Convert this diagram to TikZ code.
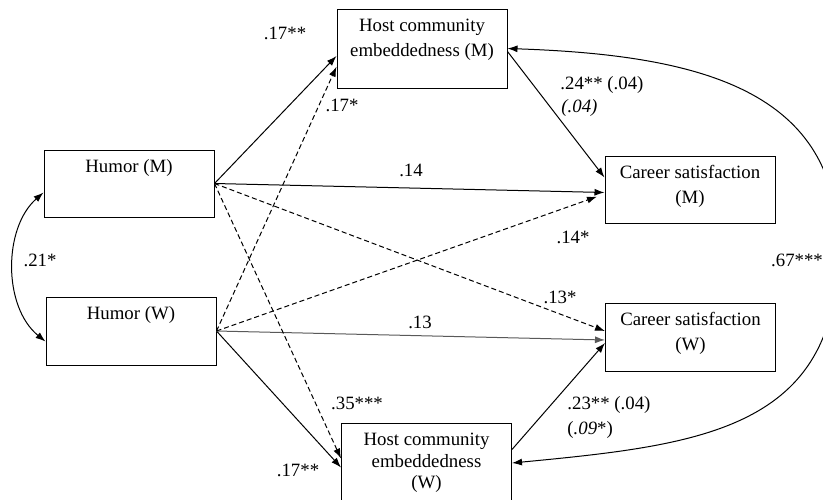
\documentclass[tikz,border=0pt]{standalone}
\usepackage{fontspec}
\setmainfont{Liberation Serif}
\usetikzlibrary{arrows.meta}
\newcommand{\vartxt}[2]{\parbox[t][#1][t]{85pt}{\centering\rule{0pt}{11.3pt}#2}}
\begin{document}
\begin{tikzpicture}[x=0.5pt, y=-0.5pt,
    font=\fontsize{9.4}{12.5}\selectfont,
    >={Latex[length=5pt,width=3.5pt]},
    var/.style={draw, line width=0.5pt, inner sep=0pt},
    coef/.style={inner sep=0pt}]
  \useasboundingbox (0,0) rectangle (823,499);
  \draw
    (129,183.5) node[var] (humM){\vartxt{33.5pt}{Humor (M)}}
    (131,331) node[var] (humW){\vartxt{34pt}{Humor (W)}}
    (422,48.5) node[var] (hostM){\vartxt{39.5pt}{Host community\\embeddedness (M)}}
    (426.5,463) node[var] (hostW){\vartxt{40pt}{\baselineskip=10.75pt Host community\\embeddedness\\(W)}}
    (690,189.5) node[var] (carM){\vartxt{33.5pt}{Career satisfaction\\(M)}}
    (690.5,337) node[var] (carW){\vartxt{34pt}{Career satisfaction\\(W)}};
  \begin{scope}[->, line width=0.5pt]
    \draw (humM.east) to (hostM.185);
    \draw (humM.east) to (carM.182);
    \draw (humW.east) to (hostW.183.5);
    \draw[black!65] (humW.east) to (carW.182.5);
    \draw (hostM.358.5) to (carM.172);
    \draw (hostW.9) to (carW.184);
  \end{scope}
  \begin{scope}[->, line width=0.5pt, dash pattern=on 2.5pt off 1.5pt]
    \draw (humW.east) to (hostM.192);
    \draw[shorten >=4pt] (humW.east) to (carM.183);
    \draw (humM.east) to (carW.176.5);
    \draw (humM.east) to (hostW.177);
  \end{scope}
  \begin{scope}[<->, line width=0.5pt]
    \draw (humM.186.4) .. controls (3,228) and (3,307) .. (humW.187.4);
    \draw (hostM.east) .. controls (700,55) and (840,90) .. (838,250)
      .. controls (838,430) and (700,445) .. (hostW.east);
  \end{scope}
  \node[coef] (bHostM) at (285,33) {.17**};
  \node[coef] (wHostM) at (342,105) {.17*};
  \node[coef] (bCarM) at (411,170) {.14};
  \node[coef, anchor=west] (mCarM) at (560,85) {.24** (.04)};
  \node[coef, anchor=west] (mCarMi) at (561,108) {\textit{(.04)}};
  \node[coef] (wCarM) at (573,237) {.14*};
  \node[coef] (rHost) at (797,260) {.67***};
  \node[coef] (bCarW) at (560,297) {.13*};
  \node[coef] (wCarW) at (420,322) {.13};
  \node[coef] (bHostW) at (357,403) {.35***};
  \node[coef] (wHostW) at (298,470) {.17**};
  \node[coef, anchor=west] (mCarW) at (567,405) {.23** (.04)};
  \node[coef, anchor=west] (mCarWi) at (567,430) {(\textit{.09}*)};
  \node[coef] (rHum) at (40,260) {.21*};
\end{tikzpicture}
\end{document}
